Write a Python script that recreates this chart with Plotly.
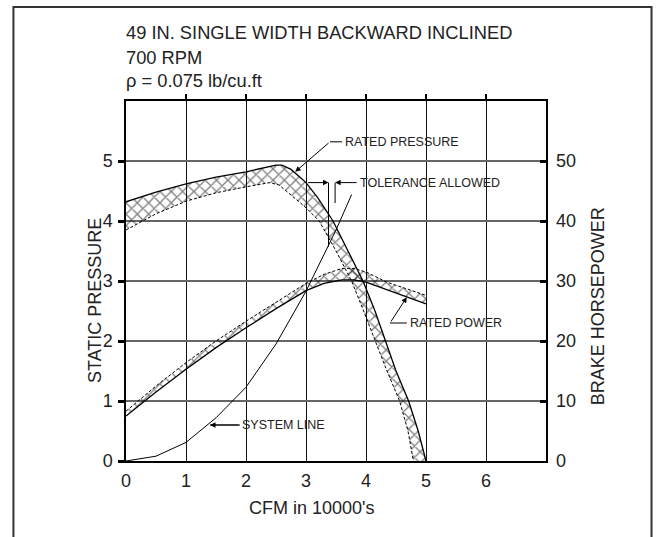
import plotly.graph_objects as go

# ---------------- data ----------------
# Rated static pressure band (in. wg) vs CFM (10000's)
pressure_upper_cfm = [0, 0.5, 1, 1.5, 2, 2.3, 2.5, 2.6, 2.75, 2.9, 3.0, 3.2, 3.45, 3.7, 3.95, 4.15, 4.32, 4.5, 4.71, 4.87, 5.0]
pressure_upper_sp = [4.32, 4.48, 4.62, 4.73, 4.82, 4.88, 4.93, 4.93, 4.86, 4.73, 4.64, 4.38, 4.0, 3.5, 3.0, 2.5, 2.0, 1.5, 1.0, 0.5, 0]
pressure_lower_cfm = [0, 0.5, 1, 1.5, 2, 2.4, 2.55, 2.7, 2.85, 3.0, 3.22, 3.5, 3.76, 3.96, 4.15, 4.35, 4.56, 4.7, 4.79]
pressure_lower_sp = [3.85, 4.12, 4.33, 4.47, 4.57, 4.64, 4.6, 4.48, 4.35, 4.22, 4.0, 3.5, 3.0, 2.5, 2.0, 1.5, 1.0, 0.5, 0]

# Rated brake horsepower band
power_cfm = [0, 0.5, 1, 1.5, 2, 2.5, 3, 3.3, 3.6, 3.8, 4.0, 4.35, 4.7, 5.0]
power_lower_bhp = [7.5, 11.5, 15.3, 18.9, 22.2, 25.4, 28.4, 29.6, 30.2, 30.2, 29.8, 28.5, 27.3, 26.2]
power_upper_bhp = [8.3, 12.5, 16.4, 20.0, 23.3, 26.5, 29.6, 31.1, 32.1, 32.1, 31.5, 29.8, 28.6, 27.6]

# System line
system_cfm = [0, 0.5, 1, 1.5, 2, 2.5, 3, 3.5, 3.76]
system_sp = [0, 0.08, 0.31, 0.72, 1.23, 1.95, 2.83, 3.85, 4.44]

# Tick labels
x_ticks = [0, 1, 2, 3, 4, 5, 6]
sp_ticks = [0, 1, 2, 3, 4, 5]
bhp_ticks = [0, 10, 20, 30, 40, 50]

title_lines = ["49 IN. SINGLE WIDTH BACKWARD INCLINED", "700 RPM", "\u03c1 = 0.075 lb/cu.ft"]

# ---------------- figure ----------------
FONT = "Liberation Sans, Arial, Helvetica, sans-serif"
TXT = "#222222"
hatch = dict(shape="x", size=8, solidity=0.3, fgcolor="black", bgcolor="rgba(0,0,0,0)")

fig = go.Figure()

# pressure band fill
fig.add_trace(go.Scatter(
    x=pressure_upper_cfm + pressure_lower_cfm[::-1],
    y=pressure_upper_sp + pressure_lower_sp[::-1],
    fill="toself", fillcolor="rgba(0,0,0,0)", fillpattern=hatch,
    mode="lines", line=dict(width=0), hoverinfo="skip", showlegend=False))
# power band fill
fig.add_trace(go.Scatter(
    x=power_cfm + power_cfm[::-1],
    y=power_upper_bhp + power_lower_bhp[::-1],
    yaxis="y2",
    fill="toself", fillcolor="rgba(0,0,0,0)", fillpattern=hatch,
    mode="lines", line=dict(width=0), hoverinfo="skip", showlegend=False))

# band edges
fig.add_trace(go.Scatter(x=pressure_upper_cfm, y=pressure_upper_sp, mode="lines",
                         line=dict(color="black", width=1.3), showlegend=False))
fig.add_trace(go.Scatter(x=pressure_lower_cfm, y=pressure_lower_sp, mode="lines",
                         line=dict(color="black", width=1, dash="3px,2px"), showlegend=False))
fig.add_trace(go.Scatter(x=power_cfm, y=power_lower_bhp, yaxis="y2", mode="lines",
                         line=dict(color="black", width=1.3), showlegend=False))
fig.add_trace(go.Scatter(x=power_cfm, y=power_upper_bhp, yaxis="y2", mode="lines",
                         line=dict(color="black", width=1, dash="3px,2px"), showlegend=False))

# system line
fig.add_trace(go.Scatter(x=system_cfm, y=system_sp, mode="lines",
                         line=dict(color="black", width=1), showlegend=False))

# dummy trace for top tick axis
fig.add_trace(go.Scatter(x=[0], y=[0], xaxis="x2", mode="markers",
                         marker=dict(opacity=0), hoverinfo="skip", showlegend=False))

shapes = []
# outer frame (open at the bottom)
shapes.append(dict(type="path", xref="paper", yref="paper",
                   path="M -0.268,-0.3 L -0.268,1.2611 L 1.2512,1.2611 L 1.2512,-0.3",
                   line=dict(color="#333", width=2)))
# leader lines
leaders = [
    (3.40, 5.32, 3.60, 5.32),   # rated pressure
    (3.375, 4.64, 3.375, 3.57),  # tolerance left vertical
    (3.485, 4.64, 3.485, 4.30),  # tolerance right vertical
    (4.40, 2.30, 4.68, 2.30),   # rated power
    (1.40, 0.60, 1.90, 0.60),   # system line
]
for x0, y0, x1, y1 in leaders:
    shapes.append(dict(type="line", xref="x", yref="y", x0=x0, y0=y0, x1=x1, y1=y1,
                       line=dict(color="black", width=1)))

annotations = []
# title lines
for txt, yp in zip(title_lines, [1.189, 1.122, 1.058]):
    annotations.append(dict(text=txt, xref="paper", yref="paper", x=-0.005, y=yp, xanchor="left",
                            yanchor="middle", showarrow=False, font=dict(family=FONT, size=18.3, color=TXT)))
# axis titles
annotations.append(dict(text="STATIC PRESSURE", xref="paper", yref="paper", x=-0.074, y=0.447,
                        xanchor="center", yanchor="middle",
                        textangle=-90, showarrow=False, font=dict(family=FONT, size=18, color=TXT)))
annotations.append(dict(text="BRAKE HORSEPOWER", xref="paper", yref="paper", x=1.124, y=0.43,
                        xanchor="center", yanchor="middle",
                        textangle=-90, showarrow=False, font=dict(family=FONT, size=18, color=TXT)))
annotations.append(dict(text="CFM in 10000's", xref="paper", yref="paper", x=0.443, y=-0.13,
                        xanchor="center", yanchor="middle",
                        showarrow=False, font=dict(family=FONT, size=18, color=TXT)))
# arrows (tip, tail)
arrows = [
    (2.82, 4.82, 3.40, 5.32),
    (3.375, 4.64, 3.01, 4.64),
    (3.485, 4.64, 3.87, 4.64),
    (4.68, 2.73, 4.40, 2.30),
    (1.40, 0.60, 1.90, 0.60),
]
for x, y, ax, ay in arrows:
    annotations.append(dict(text="", x=x, y=y, ax=ax, ay=ay, xref="x", yref="y", axref="x", ayref="y",
                            showarrow=True, arrowhead=2, arrowsize=1.1, arrowwidth=1, arrowcolor="black",
                            standoff=0, startstandoff=0))
# callout labels
labels = [
    ("RATED PRESSURE", 3.62, 5.32),
    ("TOLERANCE ALLOWED", 3.87, 4.64),
    ("RATED POWER", 4.70, 2.30),
    ("SYSTEM LINE", 1.90, 0.60),
]
for txt, x, y in labels:
    annotations.append(dict(text=txt, x=x, y=y, xref="x", yref="y", xanchor="left", yanchor="middle",
                            showarrow=False, font=dict(family=FONT, size=12.5, color=TXT)))

fig.update_layout(
    width=656, height=537,
    margin=dict(l=126, r=110, t=101, b=76, pad=0),
    paper_bgcolor="white", plot_bgcolor="white",
    font=dict(family=FONT, size=18, color=TXT),
    showlegend=False,
    xaxis=dict(range=[0, 7], tickvals=x_ticks, showgrid=True, gridcolor="#111", gridwidth=1,
               showline=True, linecolor="black", linewidth=1.5, mirror=True, zeroline=False,
               ticks="", ticklabelstandoff=3, tickfont=dict(size=18, color=TXT)),
    xaxis2=dict(range=[0, 7], overlaying="x", side="top", tickvals=[1, 2, 3, 4, 5, 6], ticks="outside",
                ticklen=6, tickwidth=1.5, tickcolor="black", showticklabels=False, showgrid=False,
                showline=False, zeroline=False),
    yaxis=dict(range=[0, 6], tickvals=sp_ticks, showgrid=True, gridcolor="#666", gridwidth=2,
               showline=True, linecolor="black", linewidth=1.5, mirror=True, zeroline=False,
               ticks="outside", ticklen=6, tickwidth=2.5, tickcolor="black", ticklabelstandoff=2,
               tickfont=dict(size=18, color=TXT)),
    yaxis2=dict(range=[0, 60], tickvals=bhp_ticks, overlaying="y", side="right", showgrid=False,
                zeroline=False, ticks="inside", ticklen=6, tickwidth=2.5, tickcolor="black",
                ticklabelstandoff=9, tickfont=dict(size=18, color=TXT)),
    shapes=shapes,
    annotations=annotations,
)

fig.write_html("out.html", config={"displayModeBar": False},
               post_script="document.body.style.margin='0';document.body.style.overflow='hidden';")
